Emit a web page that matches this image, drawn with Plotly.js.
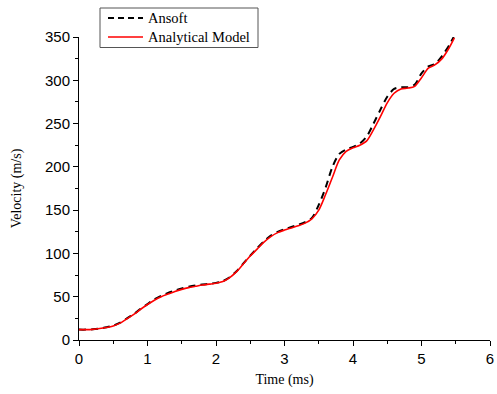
<!DOCTYPE html>
<html>
<head>
<meta charset="utf-8">
<script src="https://cdn.plot.ly/plotly-3.0.1.min.js"></script>
<style>html,body{margin:0;padding:0;background:#fff;}#chart{width:497px;height:394px;}</style>
</head>
<body>
<div id="chart"></div>
<script>
const seriesNames = ['Ansoft', 'Analytical Model'];
const timeAnalytical = [0,0.1,0.2,0.3,0.4,0.5,0.6,0.7,0.8,0.9,1.0,1.1,1.2,1.3,1.4,1.5,1.6,1.7,1.8,1.9,2.0,2.1,2.2,2.3,2.4,2.5,2.6,2.7,2.8,2.9,3.0,3.1,3.2,3.3,3.4,3.5,3.6,3.7,3.8,3.9,4.0,4.1,4.2,4.3,4.4,4.5,4.6,4.7,4.8,4.9,5.0,5.1,5.2,5.3,5.4,5.48];
const velAnalytical = [12,12,12.3,13.2,14.5,16.3,19.5,24.5,29.5,35.5,41,46,50,53,56,58.5,60.5,62,63.5,64.5,65.5,67.5,72,79,88,97,105,113,119.5,124,127,129.5,132,135,140,150,168,188,208,218,222,225,230,243,258,274,285,290,291,293,303,314,318,325,337,349];
const timeAnsoft = [0,0.1,0.2,0.3,0.4,0.5,0.6,0.7,0.8,0.9,1.0,1.1,1.2,1.3,1.4,1.5,1.6,1.7,1.8,1.9,2.0,2.1,2.2,2.3,2.4,2.5,2.6,2.7,2.8,2.9,3.0,3.1,3.2,3.3,3.4,3.5,3.6,3.7,3.8,3.9,4.0,4.1,4.2,4.3,4.4,4.5,4.6,4.7,4.8,4.9,5.0,5.1,5.2,5.3,5.4,5.47];
const velAnsoft = [12,12,12.4,13.3,14.7,16.6,20,25,30,36,41.5,47,51,54.5,57,59.5,61.5,63,64,65,66,68,72.5,79.5,88.5,97.5,106,114,120.5,125,128,130.5,133,136,141,156,176,200,215,220,223,227,235,250,266,281,290,292,292,295,308,316,319,328,340,350];

const W = 497, H = 394;
const M = {l: 79, r: 7, t: 37, b: 54};
const pw = W - M.l - M.r, ph = H - M.t - M.b;
const px = v => (v - M.l) / pw;
const py = v => (H - M.b - v) / ph;

const blackLine = {color: '#000000', width: 2, dash: '7px,5px'};
const redLine = {color: '#ff0000', width: 1.6};

const traces = [
  {x: timeAnsoft, y: velAnsoft, name: seriesNames[0], type: 'scatter', mode: 'lines',
   line: Object.assign({shape: 'spline', smoothing: 0.8}, blackLine)},
  {x: timeAnalytical, y: velAnalytical, name: seriesNames[1], type: 'scatter', mode: 'lines',
   line: Object.assign({shape: 'spline', smoothing: 0.8}, redLine)}
];

const serif = 'Liberation Serif, Times New Roman, serif';
const axisCommon = {
  showgrid: false, zeroline: false, showline: true, linecolor: '#000', linewidth: 1,
  ticks: 'outside', ticklen: 5, tickwidth: 1, tickcolor: '#000',
  tickfont: {family: 'Liberation Sans, Arial, sans-serif', size: 15, color: '#000'},
  mirror: false
};

// legend drawn as a box with sample lines and labels
const legendRows = [18, 37];
const shapes = [
  {type: 'rect', xref: 'paper', yref: 'paper', x0: px(100), x1: px(258), y0: py(47.5), y1: py(8),
   line: {color: '#555', width: 1}, fillcolor: '#fff', layer: 'above'},
  {type: 'line', xref: 'paper', yref: 'paper', x0: px(108), x1: px(143), y0: py(legendRows[0]), y1: py(legendRows[0]),
   line: {color: '#000', width: 2, dash: '6px,4px'}, layer: 'above'},
  {type: 'line', xref: 'paper', yref: 'paper', x0: px(108), x1: px(143), y0: py(legendRows[1]), y1: py(legendRows[1]),
   line: redLine, layer: 'above'}
];
const annotations = seriesNames.map((n, i) => ({
  text: n, xref: 'paper', yref: 'paper', x: px(146), y: py(legendRows[i]),
  xanchor: 'left', yanchor: 'middle', showarrow: false,
  font: {family: serif, size: 14.5, color: '#000'}
}));

const layout = {
  width: W, height: H,
  margin: M,
  paper_bgcolor: '#fff', plot_bgcolor: '#fff',
  showlegend: false,
  shapes: shapes,
  annotations: annotations,
  xaxis: Object.assign({}, axisCommon, {
    range: [0, 6], dtick: 1, tick0: 0,
    minor: {ticks: 'outside', ticklen: 3, dtick: 0.5, tickcolor: '#000', showgrid: false},
    title: {text: 'Time (ms)', standoff: 8, font: {family: serif, size: 14, color: '#000'}}
  }),
  yaxis: Object.assign({}, axisCommon, {
    range: [0, 350], dtick: 50, tick0: 0,
    minor: {ticks: 'outside', ticklen: 3, dtick: 25, tickcolor: '#000', showgrid: false},
    title: {text: 'Velocity (m/s)', standoff: 20, font: {family: serif, size: 14, color: '#000'}}
  })
};

Plotly.newPlot('chart', traces, layout, {displayModeBar: false, staticPlot: true});
</script>
</body>
</html>
